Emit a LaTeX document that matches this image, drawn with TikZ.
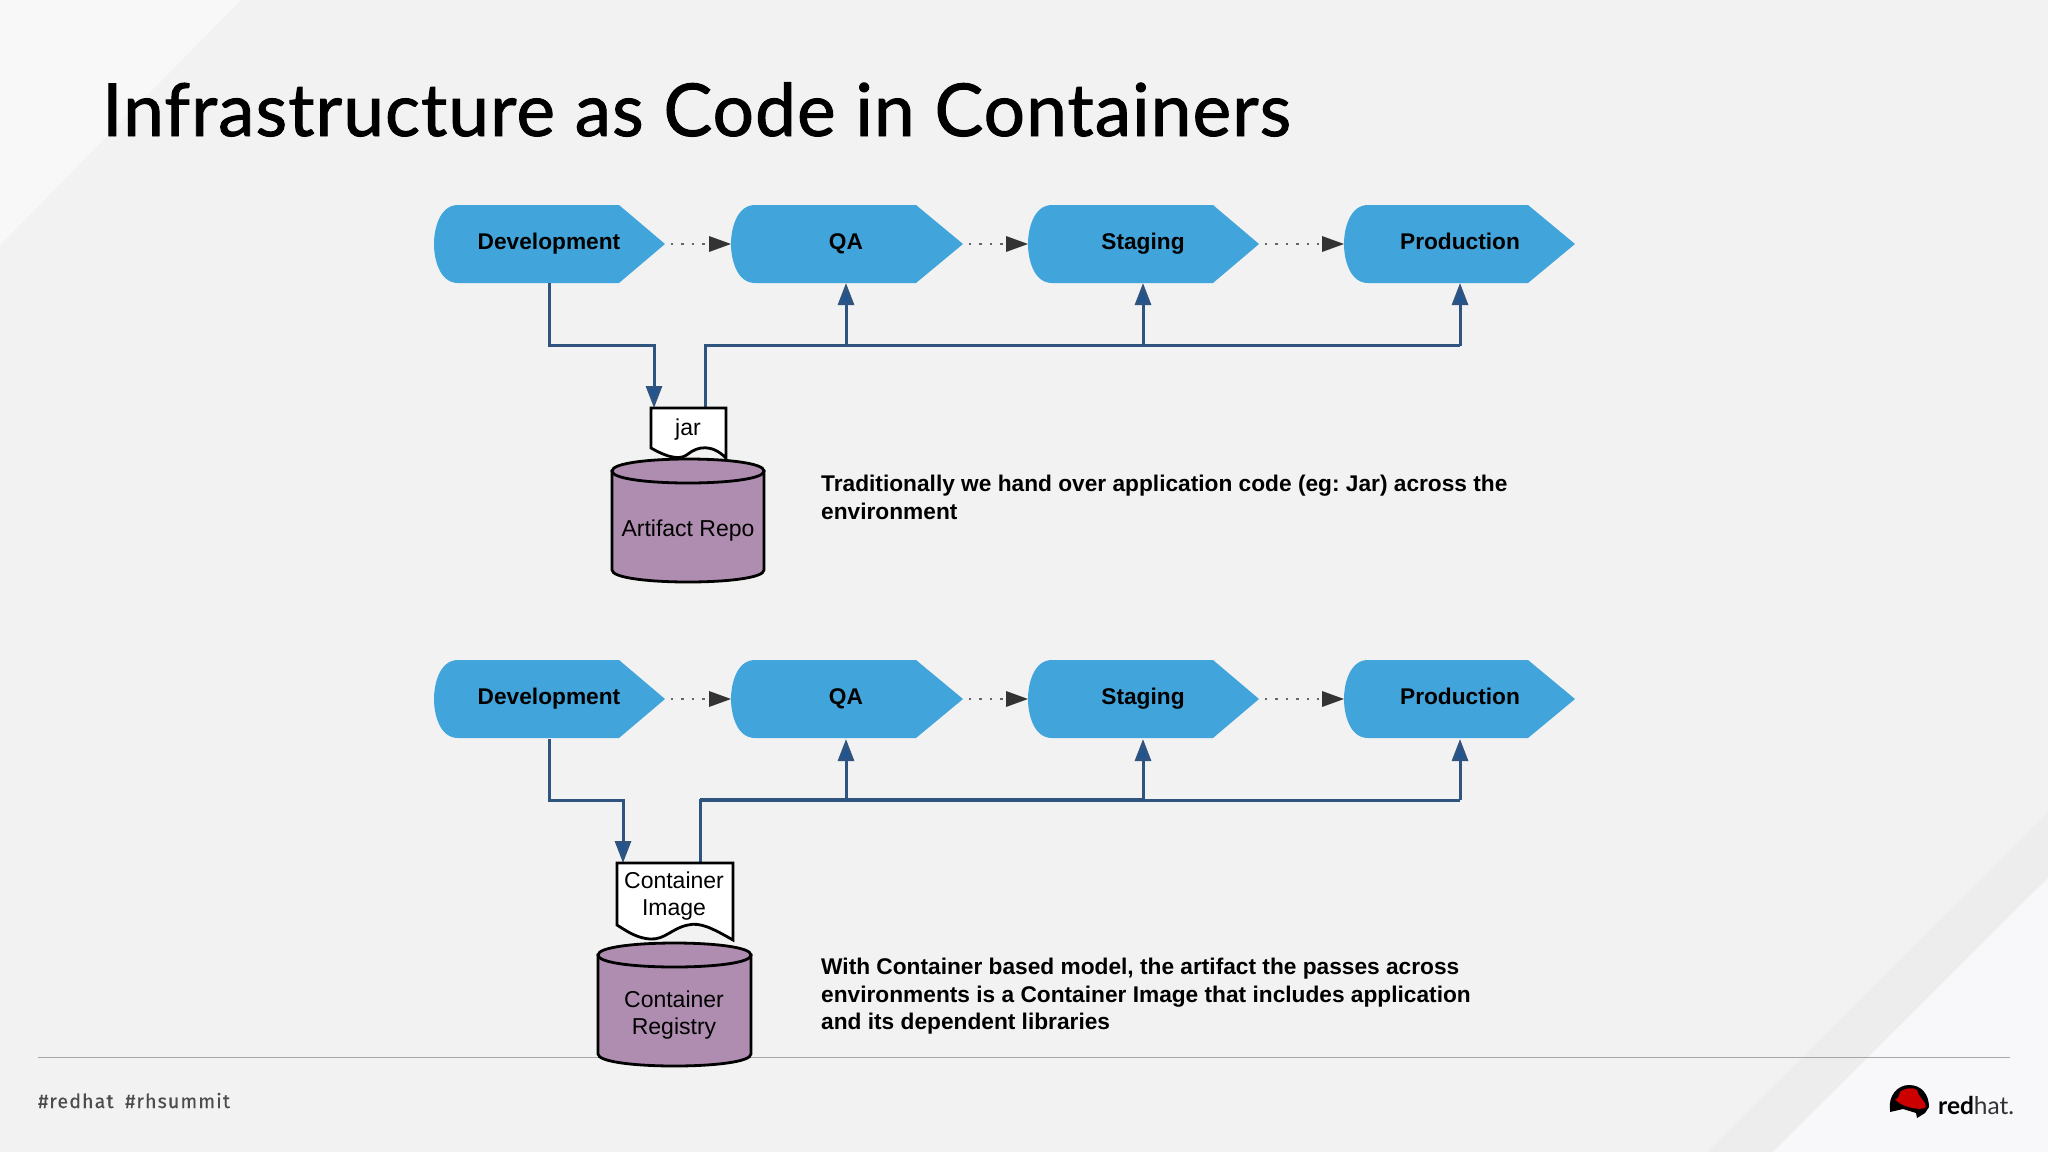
\documentclass[tikz,border=0pt]{standalone}
\usepackage{fontspec}
\setmainfont{Liberation Sans}
\newfontfamily\titlefont[FakeBold=1.3,LetterSpace=1.5]{Lato}
\newfontfamily\tagfont[LetterSpace=6,FakeBold=0.4]{Fira Sans}
\newfontfamily\logofont{Lato}
\usetikzlibrary{arrows.meta}
\definecolor{bgc}{HTML}{F2F2F3}
\definecolor{stagec}{HTML}{41A5DC}
\definecolor{linkc}{HTML}{2F5480}
\definecolor{tipc}{HTML}{1F5591}
\definecolor{cylc}{HTML}{AF8DB0}
\definecolor{planec}{HTML}{F8F8FA}
\definecolor{hatc}{HTML}{CC0000}
\tikzset{
  stagebox/.style={fill=stagec,draw=none},
  stagetext/.style={font=\fontsize{22.7}{27}\selectfont\bfseries,text=black,anchor=base},
  flow/.style={draw=linkc,line width=3pt,-{Triangle[length=22pt,width=16pt,fill=tipc]}},
  flowplain/.style={draw=linkc,line width=3pt},
  dotted link/.style={draw=black!60,line width=2.4pt,dash pattern=on 2.4pt off 8pt,shorten <=6pt,-{Triangle[length=22pt,width=16pt,fill=black!80,line width=0pt]}},
  paper/.style={fill=white,draw=black,line width=2.8pt,line join=miter},
  drum/.style={fill=cylc,draw=black,line width=2.8pt},
  drumtext/.style={font=\fontsize{23}{27.4}\selectfont,align=center,text=black},
  note/.style={font=\fontsize{22.7}{27.4}\selectfont\bfseries\frenchspacing,align=left,anchor=north west,text=black,inner sep=0pt},
}
\newcommand{\stageshape}[6]{% name, left, shoulder, tip, mid y, label
  \path[stagebox] (#2+24,#5-39) -- (#3,#5-39) -- (#4,#5) -- (#3,#5+39) -- (#2+24,#5+39)
     .. controls (#2+6,#5+39) and (#2,#5+16) .. (#2,#5)
     .. controls (#2,#5-16) and (#2+6,#5-39) .. (#2+24,#5-39) -- cycle;
  \coordinate (#1-w) at (#2,#5);
  \coordinate (#1-e) at (#4,#5);
}
\newcommand{\drumshape}[4]{% left, right, top, bottom
  \path[drum] (#1,#3+12) -- (#1,#4-12) .. controls (#1,#4+4) and (#2,#4+4) .. (#2,#4-12) -- (#2,#3+12) -- cycle;
  \path[drum] (#1,#3+12) .. controls (#1,#3-4) and (#2,#3-4) .. (#2,#3+12) .. controls (#2,#3+28) and (#1,#3+28) .. (#1,#3+12) -- cycle;
}
\begin{document}
\begin{tikzpicture}[x=1pt,y=-1pt]
\useasboundingbox (0,0) rectangle (2048,1152);
\fill[bgc] (0,0) rectangle (2048,1152);
% decorative planes
\fill[white,opacity=.5] (0,0) -- (241,0) -- (0,245) -- cycle;
\fill[black,opacity=.02] (2048,812) -- (2048,1152) -- (1707,1152) -- cycle;
\fill[planec] (2048,878) -- (2048,1152) -- (1773,1152) -- cycle;
% title
\node[anchor=base west,inner sep=0pt,font=\titlefont\fontsize{73}{80}\selectfont,text=black] (title) at (102,136) {Infrastructure as Code in Containers};
% footer
\draw[black!35,line width=1.4pt] (38,1057.5) -- (2010,1057.5);
\node[anchor=base west,inner sep=0pt,font=\tagfont\fontsize{19.5}{24}\selectfont,text=black!70] (tags) at (38,1108) {\#redhat\hspace{.6em}\#rhsummit};
% stages
\foreach \n/\l/\s/\t in {d/434/619/665,q/731/916/963,s/1028/1213/1259,p/1344/1528/1575}{
  \stageshape{\n}{\l}{\s}{\t}{244}{}
  \stageshape{\n b}{\l}{\s}{\t}{699}{}
}
\node[stagetext] (devA) at (549,249) {Development};
\node[stagetext] (qaA) at (846,249) {QA};
\node[stagetext] (stA) at (1143,249) {Staging};
\node[stagetext] (prA) at (1460,249) {Production};
\node[stagetext] (devB) at (549,704.5) {Development};
\node[stagetext] (qaB) at (846,704.5) {QA};
\node[stagetext] (stB) at (1143,704.5) {Staging};
\node[stagetext] (prB) at (1460,704.5) {Production};
\draw[dotted link] (d-e) -- (q-w);
\draw[dotted link] (q-e) -- (s-w);
\draw[dotted link] (s-e) -- (p-w);
\draw[dotted link] (db-e) -- (qb-w);
\draw[dotted link] (qb-e) -- (sb-w);
\draw[dotted link] (sb-e) -- (pb-w);
% repo 1
\coordinate (ja) at (654,408);
\coordinate (jb) at (705,408);
\draw[flow] (549,283) |- (654,345.5) -- (ja);
\draw[flowplain] (jb) |- (1460,345.5);
\draw[flow] (846,345.5) -- (846,283);
\draw[flow] (1143,345.5) -- (1143,283);
\draw[flow] (1460,345.5) -- (1460,283);
\path[paper] (651,408) -- (726,408) -- (726,458) .. controls (712,444) and (698,446) .. (688,454) .. controls (682,459) and (672,460) .. (651,448) -- cycle;
\node[font=\fontsize{23}{27}\selectfont,text=black] (jar) at (688,429.5) {jar};
\drumshape{612}{764}{459}{582}
\node[drumtext] (artifact) at (688,531) {Artifact Repo};
\node[note] (noteA) at (821,475) {Traditionally we hand over application code (eg: Jar) across the\\environment};
% repo 2
\coordinate (ia) at (623,863);
\coordinate (ib) at (700,863);
\draw[flow] (549,739) |- (623,800) -- (ia);
\draw[flowplain] (ib) |- (1460,800);
\draw[draw=linkc,line width=3.8pt] (700,799.5) -- (1143,799.5);
\draw[flow] (846,800) -- (846,739);
\draw[flow] (1143,800) -- (1143,739);
\draw[flow] (1460,800) -- (1460,739);
\path[paper] (617,863) -- (733,863) -- (733,940) .. controls (712,928) and (700,922) .. (688,925) .. controls (672,928) and (665,940) .. (650,939) .. controls (637,938) and (628,932) .. (617,925) -- cycle;
\node[font=\fontsize{23}{27.4}\selectfont,align=center,text=black] (img) at (674,896) {Container\\Image};
\drumshape{598}{751}{943}{1066}
\node[drumtext] (registry) at (674,1015) {Container\\Registry};
\node[note] (noteB) at (821,958) {With Container based model, the artifact the passes across\\environments is a Container Image that includes application\\and its dependent libraries};
% logo
\fill[black] (1890,1110) .. controls (1888,1095) and (1898,1085) .. (1909,1085) .. controls (1922,1085) and (1929,1095) .. (1929,1107) -- (1925,1113) -- (1917,1118) -- (1916,1113) -- (1903,1109) -- (1890,1112) -- cycle;
\fill[hatc] (1895,1099) .. controls (1899,1100) and (1899,1092) .. (1901,1091) .. controls (1905,1088) and (1914,1087) .. (1917,1090) .. controls (1918,1097) and (1926,1101) .. (1926,1107) .. controls (1921,1112) and (1899,1106) .. (1895,1099) -- cycle;
\node[anchor=base west,inner sep=0pt,font=\logofont\fontsize{24.5}{30}\selectfont,text=black] (logo) at (1938,1114) {\textbf{red}\textcolor{black!80}{hat.}};
\end{tikzpicture}
\end{document}
